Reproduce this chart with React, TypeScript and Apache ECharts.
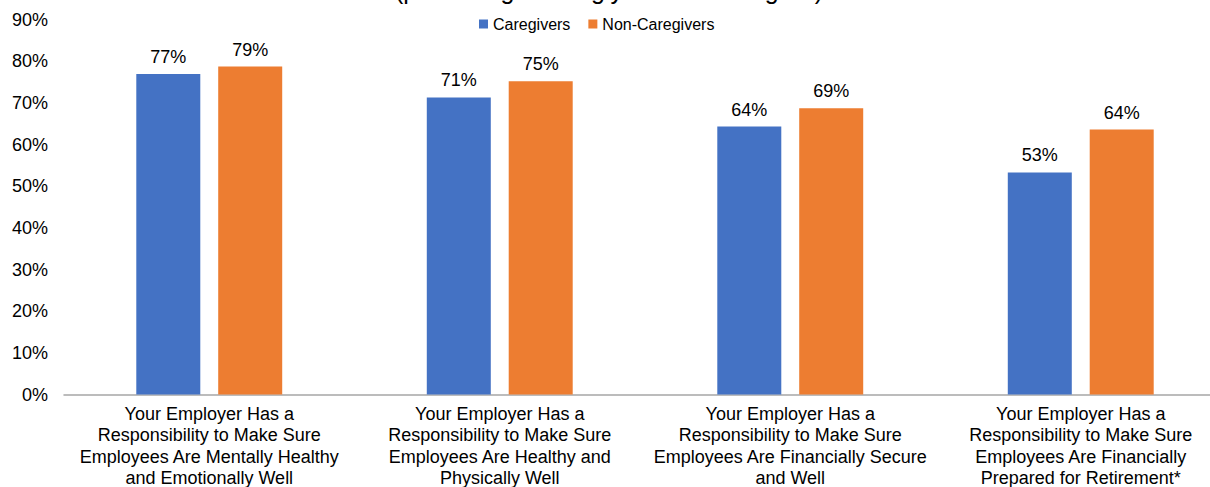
import React, { useEffect, useRef } from "react";
import * as echarts from "echarts";

const categories = [
  "Your Employer Has a\nResponsibility to Make Sure\nEmployees Are Mentally Healthy\nand Emotionally Well",
  "Your Employer Has a\nResponsibility to Make Sure\nEmployees Are Healthy and\nPhysically Well",
  "Your Employer Has a\nResponsibility to Make Sure\nEmployees Are Financially Secure\nand Well",
  "Your Employer Has a\nResponsibility to Make Sure\nEmployees Are Financially\nPrepared for Retirement*",
];
const caregivers = [76.9, 71.3, 64.3, 53.3];
const nonCaregivers = [78.7, 75.2, 68.7, 63.6];
const seriesNames = ["Caregivers", "Non-Caregivers"];
const titleText = "(percentage strongly/somewhat agree)";

const FONT = '"Liberation Sans", Arial, sans-serif';

export default function App() {
  const ref = useRef<HTMLDivElement>(null);
  useEffect(() => {
    if (!ref.current) return;
    const chart = echarts.init(ref.current, undefined, { renderer: "svg" });
    const labelFmt = (p: any) => Math.round(p.value) + "%";
    chart.setOption({
      animation: false,
      textStyle: { fontFamily: FONT },
      graphic: [
        {
          type: "text",
          x: 609,
          y: -10.5,
          style: {
            text: titleText,
            font: `25px ${FONT}`,
            fill: "#000",
            align: "center",
            verticalAlign: "middle",
          },
        },
      ],
      legend: {
        left: 474,
        top: 11,
        icon: "rect",
        itemWidth: 9,
        itemHeight: 9,
        itemGap: 18,
        textStyle: { fontSize: 16, color: "#000", fontFamily: FONT },
        data: seriesNames,
      },
      grid: { left: 64, right: 0, top: 19.5, bottom: 92.5, outerBoundsMode: "none", containLabel: false },
      xAxis: {
        type: "category",
        data: categories,
        axisLine: { show: true, lineStyle: { color: "#a6a6a6", width: 1.5 } },
        axisTick: { show: false },
        axisLabel: {
          fontSize: 18,
          lineHeight: 21.3,
          color: "#000",
          margin: 9,
          interval: 0,
          fontFamily: FONT,
        },
      },
      yAxis: {
        type: "value",
        min: 0,
        max: 90,
        interval: 10,
        splitLine: { show: false },
        axisLine: { show: false },
        axisTick: { show: false },
        axisLabel: {
          formatter: "{value}%",
          fontSize: 18,
          color: "#000",
          margin: 16,
          fontFamily: FONT,
        },
      },
      series: [
        {
          name: seriesNames[0],
          type: "bar",
          data: caregivers,
          barWidth: 64,
          barGap: "28%",
          itemStyle: { color: "#4472C4" },
          label: {
            show: true,
            position: "top",
            distance: 8,
            formatter: labelFmt,
            fontSize: 18,
            color: "#000",
            fontFamily: FONT,
          },
        },
        {
          name: seriesNames[1],
          type: "bar",
          data: nonCaregivers,
          barWidth: 64,
          barGap: "28%",
          itemStyle: { color: "#ED7D31" },
          label: {
            show: true,
            position: "top",
            distance: 8,
            formatter: labelFmt,
            fontSize: 18,
            color: "#000",
            fontFamily: FONT,
          },
        },
      ],
    });
    return () => chart.dispose();
  }, []);
  return (
    <div
      ref={ref}
      style={{ position: "fixed", left: 0, top: 0, width: 1226, height: 487, background: "#fff" }}
    />
  );
}
